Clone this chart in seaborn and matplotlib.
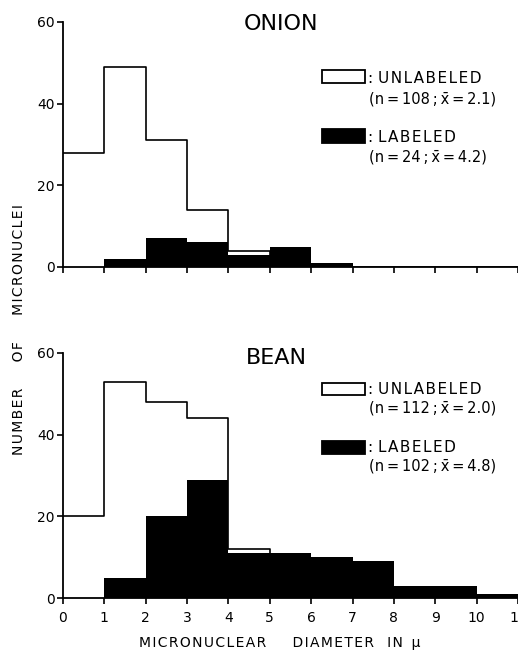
import numpy as np
import pandas as pd
import matplotlib
matplotlib.use("Agg")
import matplotlib.pyplot as plt
import seaborn as sns
from matplotlib.patches import Rectangle

# ---- data ----
bin_starts = [0, 1, 2, 3, 4, 5, 6, 7, 8, 9, 10]
x_tick_values = [0, 1, 2, 3, 4, 5, 6, 7, 8, 9, 10, 11]
x_tick_labels = ["0", "1", "2", "3", "4", "5", "6", "7", "8", "9", "10", "11"]
y_tick_values = [0, 20, 40, 60]

onion_unlabeled = [28, 49, 31, 14, 4, 0, 0, 0, 0, 0, 0]
onion_labeled = [0, 2, 7, 6, 3, 5, 1, 0, 0, 0, 0]
bean_unlabeled = [20, 53, 48, 44, 12, 0, 0, 0, 0, 0, 0]
bean_labeled = [0, 5, 20, 29, 11, 11, 10, 9, 3, 3, 1]

TS = "\u2009"
onion_legend = ["UNLABELED", f"(n{TS}={TS}108{TS};{TS}x\u0304{TS}={TS}2.1)",
                "LABELED", f"(n{TS}={TS}24{TS};{TS}x\u0304{TS}={TS}4.2)"]
bean_legend = ["UNLABELED", f"(n{TS}={TS}112{TS};{TS}x\u0304{TS}={TS}2.0)",
               "LABELED", f"(n{TS}={TS}102{TS};{TS}x\u0304{TS}={TS}4.8)"]

sns.set_style("ticks")
plt.rcParams["font.family"] = ["DejaVu Sans"]
for k in ["text.color", "axes.labelcolor", "xtick.color", "ytick.color", "axes.edgecolor"]:
    plt.rcParams[k] = "black"

HS = "\u200a"


def spaced(word, sep=HS):
    return sep.join(word)


def spaced_words(words, gaps, sep=HS):
    out = spaced(words[0], sep)
    for w, g in zip(words[1:], gaps):
        out += " " * g + spaced(w, sep)
    return out


fig = plt.figure(figsize=(5.18, 6.52), dpi=100)
ax_top = fig.add_axes([0.1216, 0.5905, 0.8784, 0.3758])
ax_bot = fig.add_axes([0.1216, 0.0828, 0.8784, 0.3758])


def draw(ax, unl, lab, title, legend, tpos, leg):
    df = pd.DataFrame({"d": bin_starts, "u": unl, "l": lab})
    sns.histplot(data=df, x="d", weights="l", binwidth=1, binrange=(0, 11), element="step",
                 fill=True, color="black", alpha=1, linewidth=0, ax=ax, zorder=2)
    sns.histplot(data=df, x="d", weights="u", binwidth=1, binrange=(0, 11), element="step",
                 fill=False, color="black", linewidth=1.2, ax=ax, zorder=3)
    ax.set_xlim(0, 11)
    ax.set_ylim(0, 60)
    ax.set_xticks(x_tick_values)
    ax.set_yticks(y_tick_values)
    ax.set_xlabel("")
    ax.set_ylabel("")
    for s in ["top", "right"]:
        ax.spines[s].set_visible(False)
    for s in ["left", "bottom"]:
        ax.spines[s].set_linewidth(1.3)
    ax.tick_params(direction="out", length=4, width=1.2, labelsize=10)
    ax.tick_params(axis="x", pad=5)
    ax.tick_params(axis="y", pad=2)
    ax.text(tpos[0], tpos[1], title, transform=ax.transAxes, ha="center",
            va="center", fontsize=16)
    r1, t1, t2, r2, t3, t4 = leg
    ax.add_patch(Rectangle((0.569, r1[0]), 0.095, r1[1] - r1[0], transform=ax.transAxes,
                           facecolor="white", edgecolor="black", linewidth=1.3, clip_on=False))
    ax.add_patch(Rectangle((0.569, r2[0]), 0.095, r2[1] - r2[0], transform=ax.transAxes,
                           facecolor="black", edgecolor="black", linewidth=1.3, clip_on=False))
    ax.text(0.670, t1, ": " + spaced(legend[0]), transform=ax.transAxes,
            va="center", fontsize=11)
    ax.text(0.672, t2, legend[1], transform=ax.transAxes, va="center", fontsize=10.5)
    ax.text(0.670, t3, ": " + spaced(legend[2]), transform=ax.transAxes,
            va="center", fontsize=11)
    ax.text(0.672, t4, legend[3], transform=ax.transAxes, va="center", fontsize=10.5)


draw(ax_top, onion_unlabeled, onion_labeled, "ONION", onion_legend, (0.479, 0.99),
     ((0.750, 0.803), 0.768, 0.684, (0.506, 0.565), 0.527, 0.447))
draw(ax_bot, bean_unlabeled, bean_labeled, "BEAN", bean_legend, (0.470, 0.98),
     ((0.829, 0.878), 0.853, 0.776, (0.588, 0.641), 0.616, 0.539))

ax_top.set_xticklabels([])
ax_bot.set_xticklabels(x_tick_labels)

fig.text(280 / 518, 1 - 643 / 652,
         spaced_words(["MICRONUCLEAR", "DIAMETER", "IN", "\u03bc"], [6, 3, 2]),
         ha="center", va="center", fontsize=10)
fig.text(19 / 518, 1 - 329.5 / 652,
         spaced_words(["NUMBER", "OF", "MICRONUCLEI"], [6, 6]), rotation=90,
         ha="center", va="center", fontsize=10)

fig.savefig("out.png", dpi=100)
